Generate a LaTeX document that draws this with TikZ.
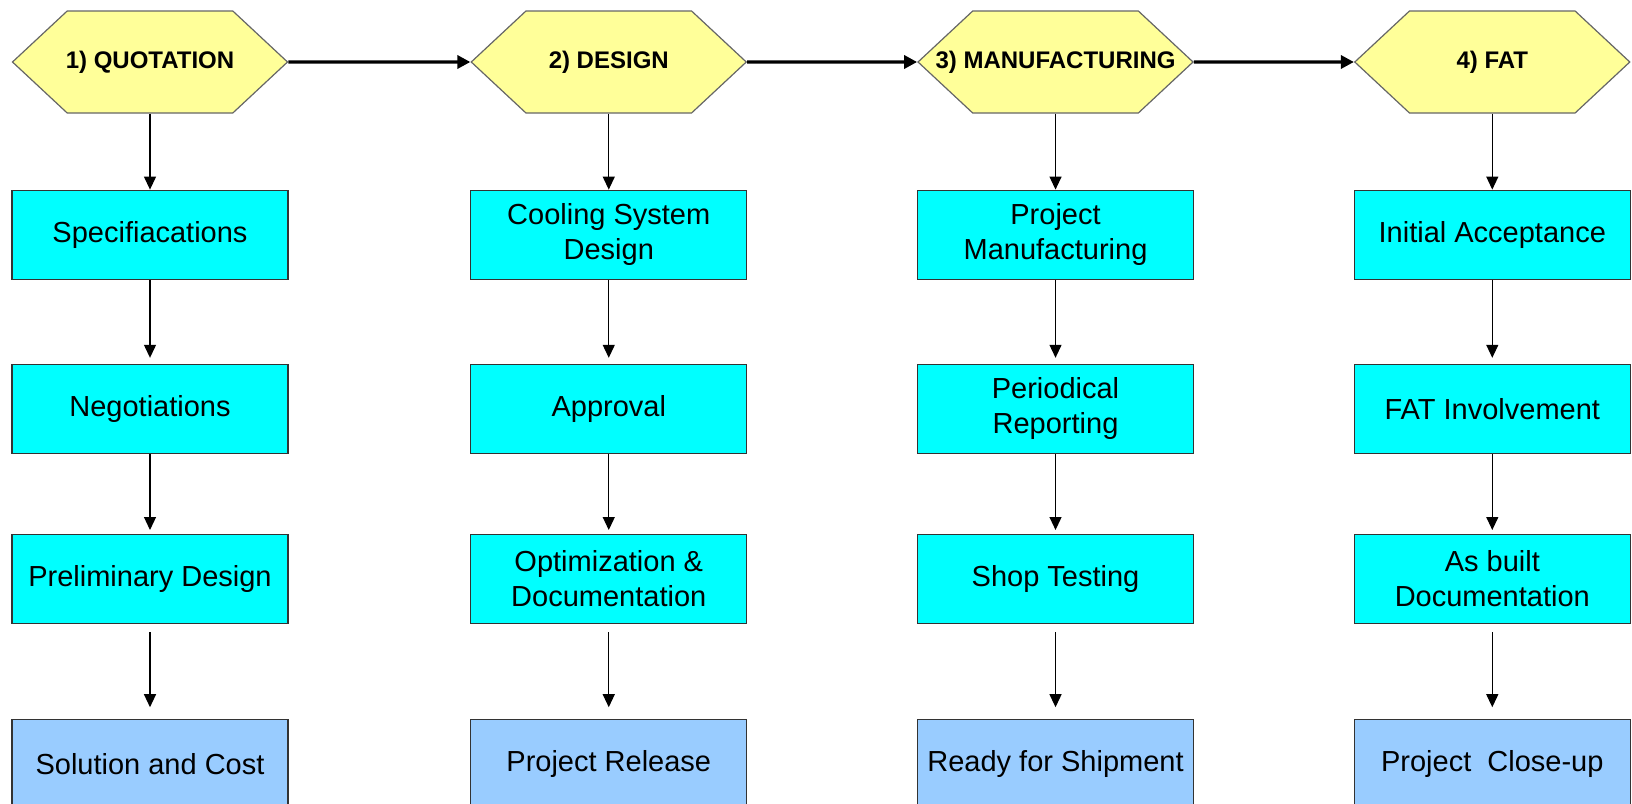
\documentclass[tikz,border=0pt]{standalone}
\usepackage{fontspec}
\setmainfont{Liberation Sans}
\usepackage{tikz}
\usetikzlibrary{shapes,arrows.meta,positioning}
\definecolor{phasefill}{RGB}{255, 255, 153}
\definecolor{phaseline}{RGB}{102, 102, 102}
\definecolor{taskfill}{RGB}{0, 255, 255}
\definecolor{outfill}{RGB}{153, 204, 255}
\definecolor{boxline}{RGB}{51, 51, 51}
\newcommand{\phasetext}[1]{\makebox[0pt]{#1}}
\tikzstyle{phase} = [signal, signal to=west and east, signal pointer angle=86, draw=phaseline, line width=0.6pt, fill=phasefill, text=black, font=\bfseries\fontsize{12}{14}\selectfont, minimum width=137.5pt, minimum height=51pt, inner sep=0pt]
\tikzstyle{task} = [rectangle, draw=boxline, line width=0.6pt, fill=taskfill, text=black, align=center, font=\fontsize{14.5}{17.5}\selectfont, minimum width=138pt, minimum height=44.5pt, inner sep=0pt]
\tikzstyle{outcome} = [task, fill=outfill]
\tikzstyle{tedge}  = [draw, line width=0.6pt, -{Triangle[length=6.5pt, width=6pt]}]
\tikzstyle{pedge}  = [draw, line width=1.6pt, -{Triangle[length=6.5pt, width=6.5pt]}]
\begin{document}
\begin{tikzpicture}[auto]
\useasboundingbox (0,0) rectangle (816pt,-401.5pt);

% phases =============================
\node[phase] (quote) at (75pt,-31pt) {\phasetext{1) QUOTATION}};
\node[phase, right=91pt of quote] (design) {\phasetext{2) DESIGN}};
\node[phase, right=85pt of design] (manuf) {\phasetext{3) MANUFACTURING}};
\node[phase, right=80pt of manuf] (fat) {\phasetext{4) FAT}};

% quotation
\node[task, below=38pt of quote] (spec) {Specifiacations};
\node[task, below=42pt of spec] (nego) {Negotiations};
\node[task, below=40pt of nego] (prelim) {Preliminary Design};
\node[outcome, below=47.5pt of prelim] (cost) {Solution and Cost};

% design
\node[task, below=38pt of design] (cool) {Cooling System\\Design};
\node[task, below=42pt of cool] (appr) {Approval};
\node[task, below=40pt of appr] (optim) {Optimization \&\\Documentation};
\node[outcome, below=47.5pt of optim] (release) {Project Release};

% manufacturing
\node[task, below=38pt of manuf] (pman) {Project\\Manufacturing};
\node[task, below=42pt of pman] (report) {Periodical\\Reporting};
\node[task, below=40pt of report] (shop) {Shop Testing};
\node[outcome, below=47.5pt of shop] (ship) {Ready for Shipment};

% fat
\node[task, below=38pt of fat] (accept) {Initial Acceptance};
\node[task, below=42pt of accept] (involve) {FAT Involvement};
\node[task, below=40pt of involve] (asbuilt) {As built\\Documentation};
\node[outcome, below=47.5pt of asbuilt] (close) {Project\ \ Close-up};

%edges
\path[pedge] (quote) -- (design);
\path[pedge] (design) -- (manuf);
\path[pedge] (manuf) -- (fat);

\path[tedge] (quote) -- (spec);
\path[tedge, shorten >=3pt] (spec) -- (nego);
\path[tedge, shorten >=2pt] (nego) -- (prelim);
\path[tedge, shorten <=4pt, shorten >=6pt] (prelim) -- (cost);

\path[tedge] (design) -- (cool);
\path[tedge, shorten >=3pt] (cool) -- (appr);
\path[tedge, shorten >=2pt] (appr) -- (optim);
\path[tedge, shorten <=4pt, shorten >=6pt] (optim) -- (release);

\path[tedge] (manuf) -- (pman);
\path[tedge, shorten >=3pt] (pman) -- (report);
\path[tedge, shorten >=2pt] (report) -- (shop);
\path[tedge, shorten <=4pt, shorten >=6pt] (shop) -- (ship);

\path[tedge] (fat) -- (accept);
\path[tedge, shorten >=3pt] (accept) -- (involve);
\path[tedge, shorten >=2pt] (involve) -- (asbuilt);
\path[tedge, shorten <=4pt, shorten >=6pt] (asbuilt) -- (close);

\end{tikzpicture}
\end{document}
